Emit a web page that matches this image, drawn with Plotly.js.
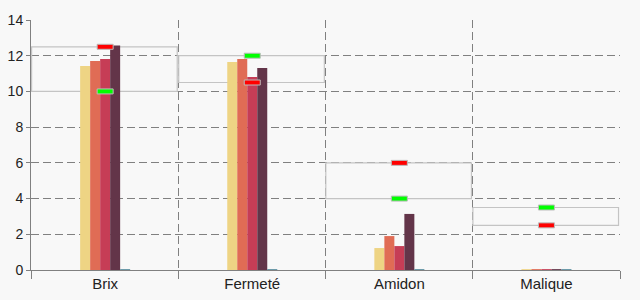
<!DOCTYPE html>
<html>
<head>
<meta charset="utf-8">
<script src="https://cdn.plot.ly/plotly-3.0.1.min.js"></script>
<style>html,body{margin:0;padding:0;background:#f8f8f8;}#chart{width:640px;height:300px;}</style>
</head>
<body>
<div id="chart"></div>
<script>
const categories = ["Brix", "Fermeté", "Amidon", "Malique"];
const serie1 = [11.42, 11.65, 1.23, 0.05];
const serie2 = [11.70, 11.81, 1.90, 0.05];
const serie3 = [11.81, 10.81, 1.34, 0.05];
const serie4 = [12.57, 11.31, 3.14, 0.05];
const serie5 = [0.05, 0.05, 0.05, 0.05];
const rangeLow = [10, 10.5, 4, 2.5];
const rangeHigh = [12.5, 12, 6, 3.5];
const redTarget = [12.5, 10.5, 6, 2.5];
const greenTarget = [10, 12, 4, 3.5];
const yTicks = [0, 2, 4, 6, 8, 10, 12, 14];

const colors = ["#EED484", "#E06C55", "#C63D56", "#633549", "#5B8FA0"];
const series = [serie1, serie2, serie3, serie4, serie5];

const traces = series.map((s, i) => ({
  type: "bar", x: categories, y: s, marker: {color: colors[i], line: {width: 0}},
  hoverinfo: "none"
}));

const shapes = [];
categories.forEach((c, i) => {
  shapes.push({type: "rect", xref: "x", yref: "y", x0: i - 0.5, x1: i + 0.49,
    y0: rangeLow[i], y1: rangeHigh[i], line: {color: "#C4C4C4", width: 1.2},
    fillcolor: "rgba(0,0,0,0)", layer: "between"});
});
function marker(i, v, col) {
  return {type: "rect", xref: "x", yref: "y", xsizemode: "pixel", ysizemode: "pixel",
    xanchor: i, yanchor: v, x0: -8, x1: 8, y0: -2.5, y1: 2.5,
    fillcolor: col, line: {color: "#BBBBBB", width: 1}, layer: "above"};
}
categories.forEach((c, i) => {
  shapes.push(marker(i, redTarget[i], "#FF0000"));
  shapes.push(marker(i, greenTarget[i], "#00FF00"));
});

const layout = {
  width: 640, height: 300,
  margin: {l: 31, r: 20, t: 20, b: 30},
  paper_bgcolor: "#f8f8f8", plot_bgcolor: "#f8f8f8",
  showlegend: false,
  barmode: "group", bargap: 0.66, bargroupgap: 0,
  font: {family: "Liberation Sans, Arial, sans-serif", size: 14, color: "#222"},
  xaxis: {
    type: "category", tickson: "boundaries", ticks: "outside", ticklen: 8,
    tickcolor: "#808080", showline: true, linecolor: "#808080", linewidth: 1,
    showgrid: true, gridcolor: "#808080", griddash: "8px,4px", gridwidth: 1,
    tickfont: {size: 15, color: "#222"}, fixedrange: true
  },
  yaxis: {
    range: [0, 14], tickvals: yTicks, ticks: "outside", ticklen: 4,
    tickcolor: "#808080", showline: true, linecolor: "#808080", linewidth: 1,
    showgrid: true, gridcolor: "#808080", griddash: "8px,4px", gridwidth: 1,
    zeroline: false, tickfont: {size: 14, color: "#222"}, fixedrange: true
  },
  shapes: shapes
};

Plotly.newPlot("chart", traces, layout, {displayModeBar: false, staticPlot: true});
</script>
</body>
</html>
